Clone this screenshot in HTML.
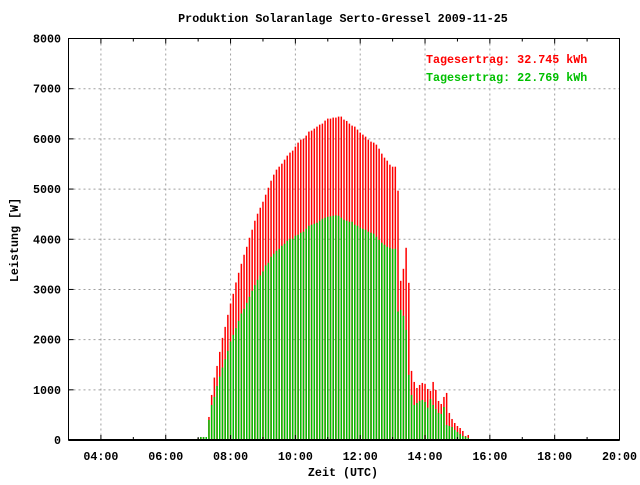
<!DOCTYPE html>
<html><head><meta charset="utf-8"><style>
body{margin:0;background:#fff;}
svg text{font-family:"Liberation Mono","DejaVu Sans Mono",monospace;font-weight:bold;font-size:11.7px;}
</style></head><body>
<svg id="chart" width="640" height="480" xmlns="http://www.w3.org/2000/svg">
<rect width="640" height="480" fill="#fff"/>
<g id="grid"></g>
<g id="bars"></g>
<g id="axes"></g>
<text x="343" y="22" text-anchor="middle">Produktion Solaranlage Serto-Gressel 2009-11-25</text>
<text x="343" y="476" text-anchor="middle">Zeit (UTC)</text>
<text transform="translate(18,240) rotate(-90)" text-anchor="middle">Leistung [W]</text>
<text x="426" y="63" fill="#ff0000">Tagesertrag: 32.745 kWh</text>
<text x="426" y="81" fill="#00c000">Tagesertrag: 22.769 kWh</text>
</svg>
<script>
const startMinute = 415; // 06:55
const stepMinutes = 5;
const redValues = [13,33,60,60,60,459,898,1244,1476,1756,2035,2254,2494,2720,2913,3139,3332,3511,3691,3850,4030,4190,4369,4509,4628,4748,4888,5027,5167,5287,5387,5446,5506,5586,5666,5726,5766,5846,5925,5985,6005,6065,6145,
6165,6204,6244,6284,6304,6364,6404,6404,6424,6424,6444,6444,6384,6357,6304,6264,6244,6185,6125,6085,6045,5985,5945,5925,5885,5805,5706,5626,5566,5486,5446,5446,4968,3172,3411,3830,3132,1377,1157,1037,1097,1137,1117,1017,978,1157,998,778,718,858,938,539,419,339,279,239,180,80,100,20];
const greenValues = [13,33,60,60,60,399,698,858,1077,1264,1443,1609,1776,1962,2095,2228,2374,2520,2613,2733,2853,2973,3086,3192,3278,3358,3478,3531,3651,3711,3771,3810,3870,3910,3970,4010,4010,4070,4090,4130,4150,4210,4269,
4289,4309,4329,4369,4409,4429,4449,4456,4469,4475,4469,4429,4389,4369,4349,4349,4289,4269,4229,4209,4190,4150,4130,4110,4050,3990,3930,3890,3850,3830,3810,3810,2560,2594,2474,2195,1297,898,698,738,778,798,758,645,818,698,618,539,519,658,299,279,259,200,160,120,80,67,40,20];
const yTicks = [0,1000,2000,3000,4000,5000,6000,7000,8000];
const xTickHours = [4,6,8,10,12,14,16,18,20];
const xTickLabels = ["04:00","06:00","08:00","10:00","12:00","14:00","16:00","18:00","20:00"];

const L=68.5,R=619.5,T=38.5,B=440,H0=3,H1=20,YMAX=8000;
const xs=h=>L+(h-H0)/(H1-H0)*(R-L);
const ys=v=>B-v/YMAX*(B-T);
const NS="http://www.w3.org/2000/svg";
function mk(tag,attrs,parent){const e=document.createElementNS(NS,tag);for(const k in attrs)e.setAttribute(k,attrs[k]);parent.appendChild(e);return e;}
const grid=document.getElementById('grid'),bars=document.getElementById('bars'),axes=document.getElementById('axes');

yTicks.forEach(v=>{
  const y=ys(v);
  if(v>0&&v<YMAX){const g=mk('line',{x1:L,x2:R,y1:y,y2:y,stroke:'#a0a0a0','stroke-dasharray':'2,3'},grid);
  
  }
  const t=mk('line',{x1:L,x2:L+5,y1:y,y2:y,stroke:'#000'},axes);
  
  
  const lb=mk('text',{x:61,y:y+4,'text-anchor':'end'},axes);
  lb.textContent=v;
  
  
});
xTickHours.forEach((h,i)=>{
  const x=xs(h);
  if(h<H1){const g=mk('line',{x1:x,x2:x,y1:T,y2:B,stroke:'#a0a0a0','stroke-dasharray':'2,3'},grid);
  
  }
  const t=mk('path',{d:`M${x},${B}v-5M${x},${T}v5`,stroke:'#000'},axes);
  
  
  const lb=mk('text',{x:x,y:460,'text-anchor':'middle'},axes);
  lb.textContent=xTickLabels[i];
  
  
});
for(let h=H0+2;h<H1;h+=2){const x=xs(h);
  const m=mk('path',{d:`M${x},${B}v-3M${x},${T}v3`,stroke:'#000'},axes);
  
  }

redValues.forEach((v,i)=>{
  const x=xs((startMinute+i*stepMinutes)/60);
  const r=mk('rect',{x:x-0.75,y:ys(v),width:1.5,height:B-ys(v),fill:'#ff0000'},bars);
  
  
  const gv=greenValues[i];
  const g=mk('rect',{x:x-0.75,y:ys(gv),width:1.5,height:B-ys(gv),fill:'#00c000'},bars);
  
  
});
const fr=mk('rect',{x:L,y:T,width:R-L,height:B-T,fill:'none',stroke:'#000','stroke-width':1},axes);


const bl=mk('line',{x1:L,x2:R,y1:B,y2:B,stroke:'#000','stroke-width':2},axes);


</script>
</body></html>
